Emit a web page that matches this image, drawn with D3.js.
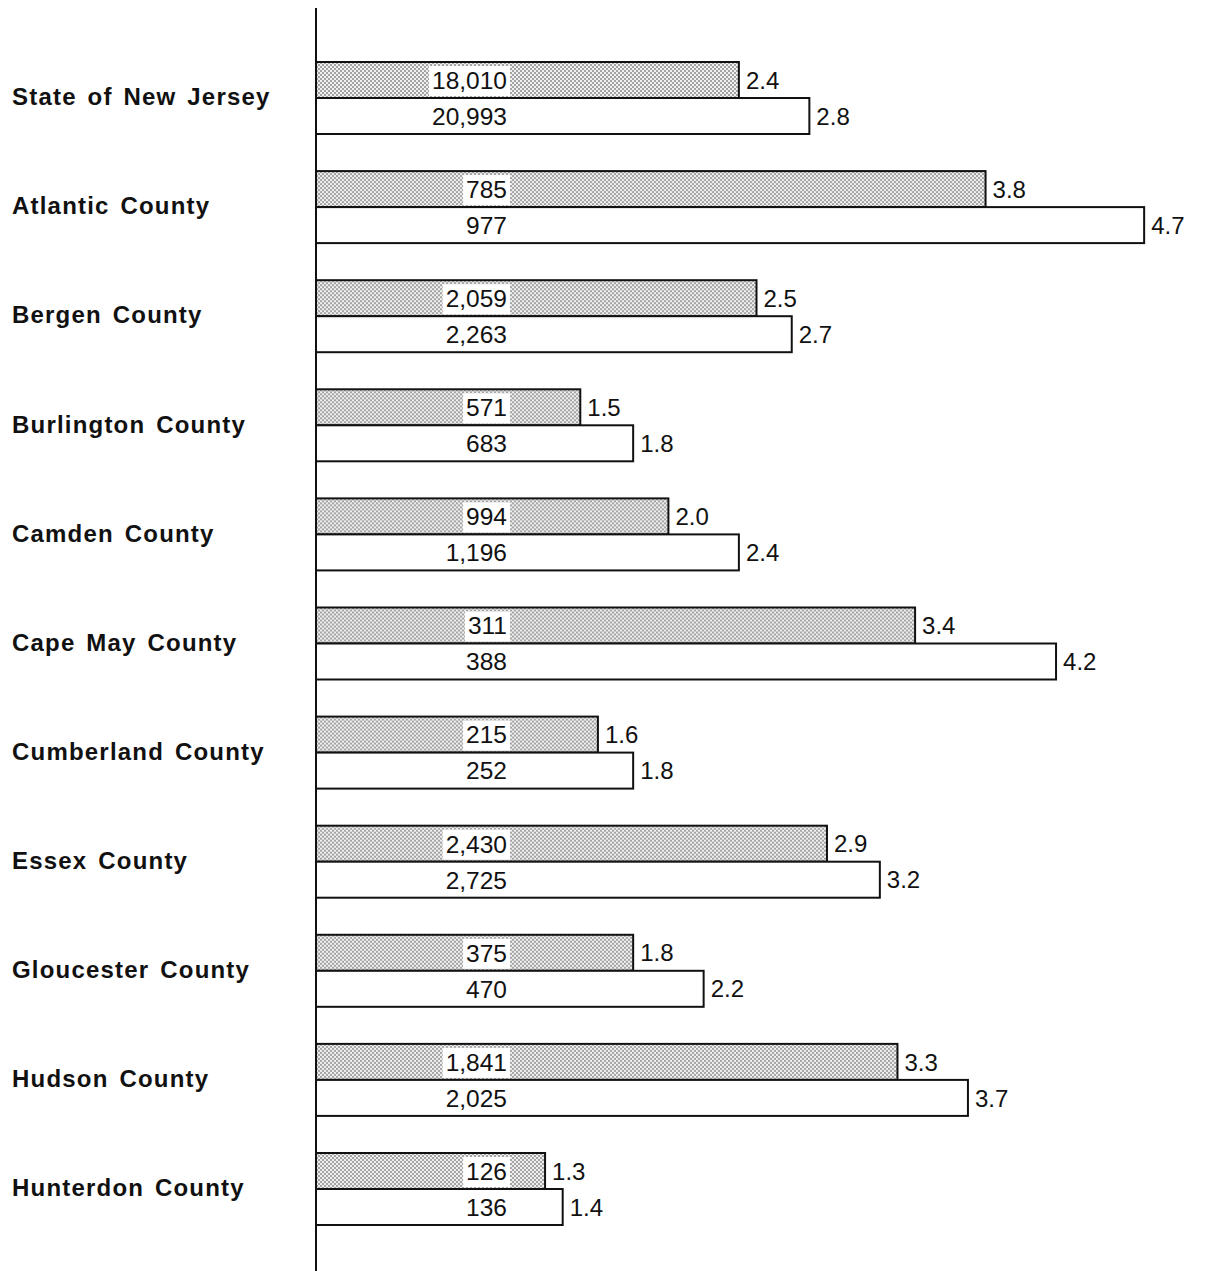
<!DOCTYPE html>
<html>
<head>
<meta charset="utf-8">
<script src="https://cdn.jsdelivr.net/npm/d3@7"></script>
<style>
  html, body { margin: 0; padding: 0; background: #fff; }
  svg { display: block; }
</style>
</head>
<body>
<svg id="chart" width="1205" height="1271"></svg>
<script>
const categories = ["State of New Jersey", "Atlantic County", "Bergen County", "Burlington County",
  "Camden County", "Cape May County", "Cumberland County", "Essex County",
  "Gloucester County", "Hudson County", "Hunterdon County"];
const shadedRates = [2.4, 3.8, 2.5, 1.5, 2.0, 3.4, 1.6, 2.9, 1.8, 3.3, 1.3];
const shadedCounts = ["18,010", "785", "2,059", "571", "994", "311", "215", "2,430", "375", "1,841", "126"];
const whiteRates = [2.8, 4.7, 2.7, 1.8, 2.4, 4.2, 1.8, 3.2, 2.2, 3.7, 1.4];
const whiteCounts = ["20,993", "977", "2,263", "683", "1,196", "388", "252", "2,725", "470", "2,025", "136"];
const seriesKeys = ["shaded", "white"];

const svg = d3.select("#chart");
const W = 1205, H = 1271;
const axisX = 316;

const defs = svg.append("defs");
const pat = defs.append("pattern").attr("id", "stipple")
  .attr("patternUnits", "userSpaceOnUse").attr("width", 4).attr("height", 4);
pat.append("rect").attr("width", 4).attr("height", 4).attr("fill", "#efefef");
pat.append("rect").attr("x", 0).attr("y", 0).attr("width", 2).attr("height", 2).attr("fill", "#a4a4a4");
pat.append("rect").attr("x", 2).attr("y", 2).attr("width", 2).attr("height", 2).attr("fill", "#a4a4a4");

const x = d3.scaleLinear().domain([0, 5]).range([axisX, axisX + 5 * 176.2]);
const y = d3.scaleBand().domain(categories).range([62, 1225]).paddingInner(0.34).paddingOuter(0);
const ySub = d3.scaleBand().domain(seriesKeys).range([0, y.bandwidth()]);

const rows = categories.map((c, i) => ({
  cat: c,
  bars: [
    { key: "shaded", rate: shadedRates[i], count: shadedCounts[i] },
    { key: "white", rate: whiteRates[i], count: whiteCounts[i] }
  ]
}));

const font = "'Liberation Sans', Arial, Helvetica, sans-serif";

// category labels
svg.append("g").selectAll("text").data(rows).join("text")
  .attr("x", 12)
  .attr("y", d => y(d.cat) + y.bandwidth() / 2)
  .attr("dy", "0.3em")
  .attr("font-family", font)
  .attr("font-weight", "bold")
  .attr("font-size", 24)
  .attr("letter-spacing", 1.2)
  .attr("word-spacing", 3)
  .attr("fill", "#111")
  .text(d => d.cat);

const groups = svg.append("g").selectAll("g").data(rows).join("g")
  .attr("transform", d => `translate(0,${y(d.cat)})`);

const bar = groups.selectAll("g.bar").data(d => d.bars).join("g").attr("class", "bar");

bar.append("rect")
  .attr("x", x(0))
  .attr("y", d => ySub(d.key))
  .attr("width", d => x(d.rate) - x(0))
  .attr("height", ySub.bandwidth())
  .attr("fill", d => d.key === "shaded" ? "url(#stipple)" : "#fff")
  .attr("stroke", "#111")
  .attr("stroke-width", 2);

// count labels (right-aligned), with white box behind
const countRight = 507;
bar.each(function(d) {
  const g = d3.select(this);
  const t = g.append("text")
    .attr("x", countRight)
    .attr("y", ySub(d.key) + ySub.bandwidth() / 2)
    .attr("dy", "0.36em")
    .attr("text-anchor", "end")
    .attr("font-family", font)
    .attr("font-size", 24.5)
    .attr("fill", "#111")
    .text(d.count);
  if (d.key === "shaded") {
    const bb = t.node().getBBox();
    g.insert("rect", "text")
      .attr("x", bb.x - 3)
      .attr("y", ySub(d.key) + 4)
      .attr("width", bb.width + 6)
      .attr("height", ySub.bandwidth() - 6)
      .attr("fill", "#fff");
  }
});

// rate labels
bar.append("text")
  .attr("x", d => x(d.rate) + 7)
  .attr("y", d => ySub(d.key) + ySub.bandwidth() / 2)
  .attr("dy", "0.36em")
  .attr("font-family", font)
  .attr("font-size", 24)
  .attr("fill", "#111")
  .text(d => d.rate.toFixed(1));

// vertical axis line
svg.append("line")
  .attr("x1", axisX).attr("x2", axisX)
  .attr("y1", 8).attr("y2", H)
  .attr("stroke", "#111").attr("stroke-width", 2);
</script>
</body>
</html>
